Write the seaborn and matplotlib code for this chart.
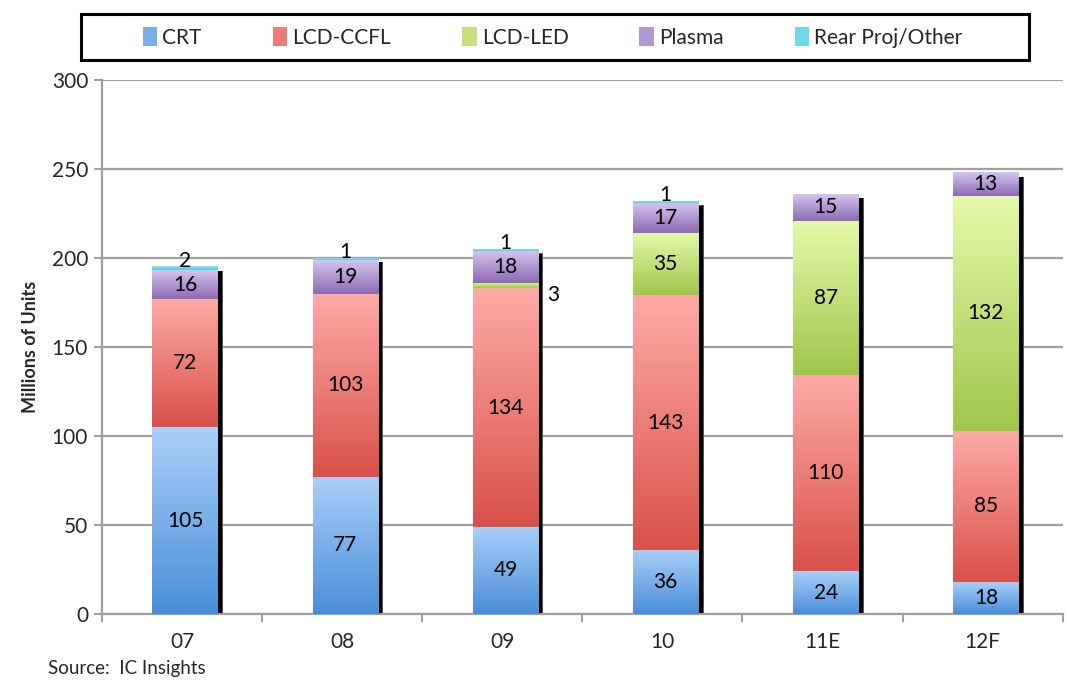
import numpy as np
import pandas as pd
import matplotlib
matplotlib.use("Agg")
import matplotlib.pyplot as plt
from matplotlib.colors import to_rgb
from matplotlib.patches import Rectangle, Patch
import seaborn as sns

# ---- data ----
years = ["07", "08", "09", "10", "11E", "12F"]
crt = [105, 77, 49, 36, 24, 18]
lcd_ccfl = [72, 103, 134, 143, 110, 85]
lcd_led = [0, 0, 3, 35, 87, 132]
plasma = [16, 19, 18, 17, 15, 13]
rear_proj = [2, 1, 1, 1, 0, 0]

series_names = ["CRT", "LCD-CCFL", "LCD-LED", "Plasma", "Rear Proj/Other"]
yticks = [0, 50, 100, 150, 200, 250, 300]

# gradient colours: (top, bottom) for each series
grad_top = ["#aacff8", "#fdaba6", "#e6f9aa", "#d5c5ee", "#8fe6f5"]
grad_bot = ["#4a8ed9", "#d9514a", "#9fc64c", "#8d6ab5", "#4cc9e3"]
legend_col = ["#79aee9", "#ec7c74", "#c3e07a", "#b198d2", "#6ed8ec"]

sns.set_theme(style="white")
plt.rcParams['font.family'] = ['Lato', 'DejaVu Sans']

values = np.vstack([crt, lcd_ccfl, lcd_led, plasma, rear_proj])
cum = np.cumsum(values, axis=0)

fig = plt.figure(figsize=(10.67, 6.81), dpi=100)
ax = fig.add_axes([0.0956, 0.0984, 0.9004, 0.7841])

# draw cumulative bars with seaborn (top layer first), keep patches per layer
layer_patches = {}
for i in reversed(range(len(series_names))):
    n0 = len(ax.patches)
    sns.barplot(x=years, y=cum[i], color=grad_bot[i], saturation=1,
                width=0.41, ax=ax, errorbar=None)
    layer_patches[i] = ax.patches[n0:]

# replace flat fills with vertical gradients per segment
for i in range(len(series_names)):
    c_top = np.array(to_rgb(grad_top[i]))
    c_bot = np.array(to_rgb(grad_bot[i]))
    t = np.linspace(0, 1, 128)[:, None]
    grad = (c_top * (1 - t) + c_bot * t)[:, None, :]
    for j, p in enumerate(layer_patches[i]):
        x0, w = p.get_x(), p.get_width()
        top = cum[i][j]
        bot = cum[i - 1][j] if i > 0 else 0
        if top - bot > 0:
            ax.imshow(grad, extent=[x0 + 0.02, x0 + w + 0.02, bot, top], aspect="auto",
                      origin="upper", zorder=3, interpolation="bilinear")
        p.set_visible(False)

# drop shadow on the right side of each bar
for j, p in enumerate(layer_patches[0]):
    x1 = p.get_x() + p.get_width() + 0.02
    total = cum[-1][j]
    ax.add_patch(Rectangle((x1 - 0.004, 0), 0.036, total - 2.3, facecolor="#555555",
                           edgecolor="none", zorder=2.4))
    ax.add_patch(Rectangle((x1, 0), 0.026, total - 2.5, facecolor="black",
                           edgecolor="none", zorder=2.5))

# segment labels
fs = 15
for i in range(len(series_names)):
    for j, p in enumerate(layer_patches[i]):
        v = values[i][j]
        if v <= 0:
            continue
        xc = p.get_x() + p.get_width() / 2 + 0.02
        bot = cum[i - 1][j] if i > 0 else 0
        if v >= 10:
            ax.text(xc, bot + v / 2, f"{v}", ha="center", va="center",
                    fontsize=fs, color="black", zorder=5)
        elif i == len(series_names) - 1:
            ax.text(xc, cum[i][j] + 3.6, f"{v}", ha="center", va="center",
                    fontsize=fs, color="black", zorder=5)
        else:
            ax.text(p.get_x() + p.get_width() + 0.11, bot + v / 2 - 5.5,
                    f"{v}", ha="center", va="center", fontsize=fs,
                    color="black", zorder=5)

# axes styling
ax.set_xlim(-0.5, len(years) - 0.5)
ax.set_ylim(0, 300)
ax.set_yticks(yticks)
ax.set_yticklabels([str(v) for v in yticks], fontsize=fs)
ax.yaxis.grid(True, color="#a0a0a0", linewidth=1.6)
ax.set_axisbelow(True)
ax.tick_params(axis="y", which="major", direction="out", length=6,
               width=1.5, color="#a0a0a0", left=True, pad=4)
ax.set_xticks(range(len(years)))
ax.set_xticklabels(years, fontsize=fs)
ax.tick_params(axis="x", which="major", length=0, pad=13)
ax.set_xticks(np.arange(len(years) + 1) - 0.5, minor=True)
ax.tick_params(axis="x", which="minor", direction="out", length=6,
               width=1.5, color="#a0a0a0", bottom=True)
for s in ["top", "right"]:
    ax.spines[s].set_visible(False)
for s in ["left", "bottom"]:
    ax.spines[s].set_color("#a0a0a0")
    ax.spines[s].set_linewidth(1.6)
ax.set_xlabel("")
ax.set_ylabel("Millions of Units", fontsize=13, fontweight="bold", labelpad=9)

# legend with a separate framing box
handles = [Patch(facecolor=legend_col[i], edgecolor="none") for i in range(len(series_names))]
fig.legend(handles, series_names, loc="center", ncol=5, frameon=False,
           bbox_to_anchor=(0.518, 0.945), fontsize=fs, handlelength=0.7,
           handleheight=1.0, handletextpad=0.25, columnspacing=3.4)
fig.patches.append(Rectangle((0.076, 0.912), 0.888, 0.067, transform=fig.transFigure,
                             facecolor="none", edgecolor="black", linewidth=2.2))

fig.text(0.045, 0.006, "Source:  IC Insights", fontsize=13.5, ha="left", va="bottom")

fig.savefig("out.png", dpi=100)
